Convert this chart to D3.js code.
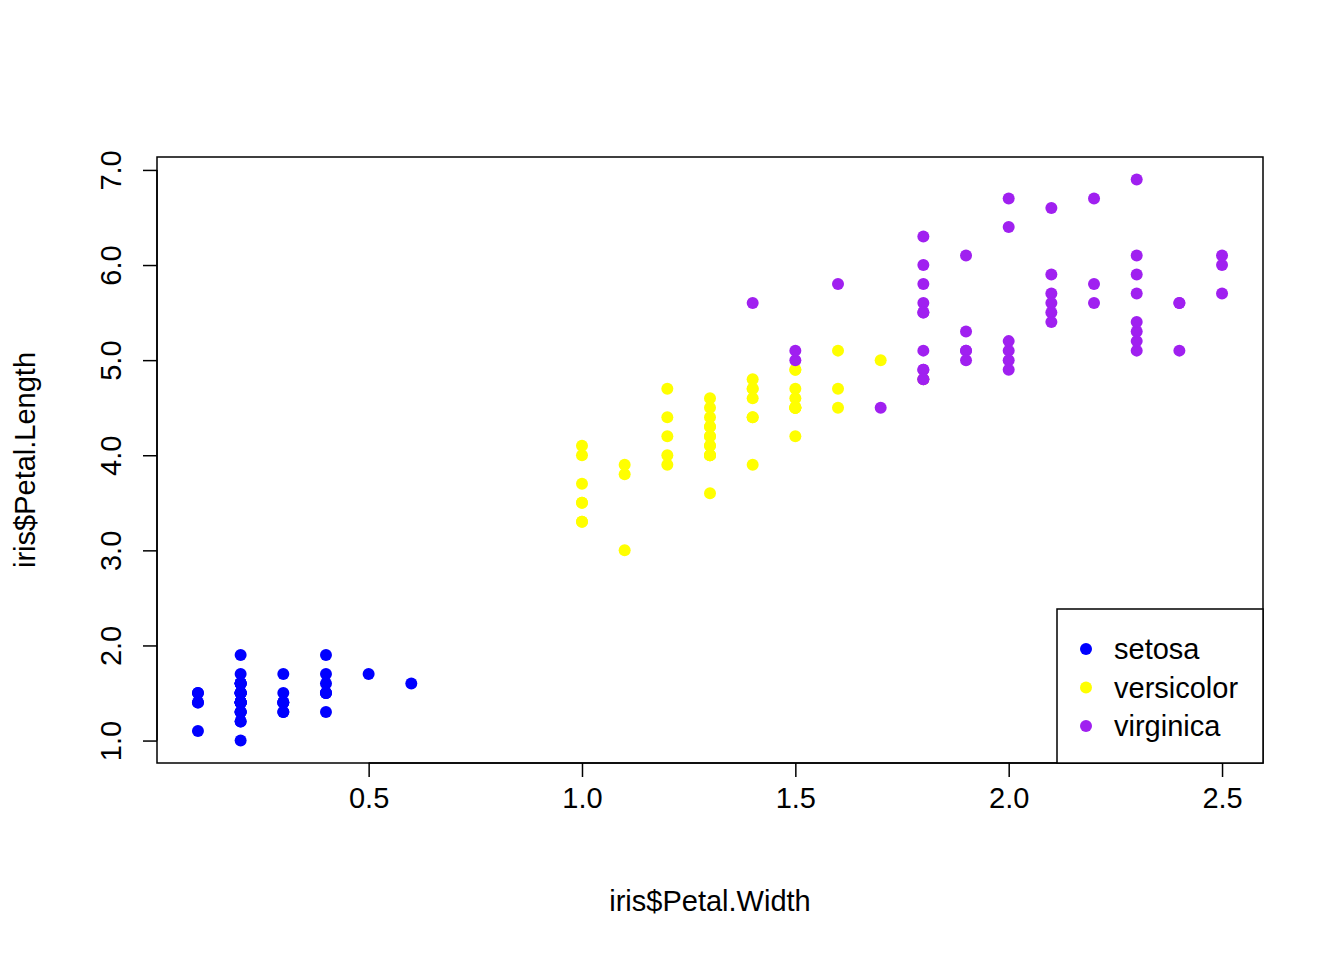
<!DOCTYPE html>
<html><head><meta charset="utf-8">
<script src="https://cdn.jsdelivr.net/npm/d3@7"></script>
<style>body{margin:0;background:#fff}text{font-family:"Liberation Sans",Arial,sans-serif;fill:#000}</style>
</head><body><svg id="chart" width="1344" height="960"></svg>
<script>
// iris petal measurements, in row order
const species = ["setosa", "versicolor", "virginica"];
const colors = ["#0000ff", "#ffff00", "#a020f0"];
const setosaLength = [1.4,1.4,1.3,1.5,1.4,1.7,1.4,1.5,1.4,1.5,1.5,1.6,1.4,1.1,1.2,1.5,1.3,1.4,1.7,1.5,1.7,1.5,1.0,1.7,1.9,1.6,1.6,1.5,1.4,1.6,1.6,1.5,1.5,1.4,1.5,1.2,1.3,1.4,1.3,1.5,1.3,1.3,1.3,1.6,1.9,1.4,1.6,1.4,1.5,1.4];
const setosaWidth = [0.2,0.2,0.2,0.2,0.2,0.4,0.3,0.2,0.2,0.1,0.2,0.2,0.1,0.1,0.2,0.4,0.4,0.3,0.3,0.3,0.2,0.4,0.2,0.5,0.2,0.2,0.4,0.2,0.2,0.2,0.2,0.4,0.1,0.2,0.2,0.2,0.2,0.1,0.2,0.2,0.3,0.3,0.2,0.6,0.4,0.3,0.2,0.2,0.2,0.2];
const versicolorLength = [4.7,4.5,4.9,4.0,4.6,4.5,4.7,3.3,4.6,3.9,3.5,4.2,4.0,4.7,3.6,4.4,4.5,4.1,4.5,3.9,4.8,4.0,4.9,4.7,4.3,4.4,4.8,5.0,4.5,3.5,3.8,3.7,3.9,5.1,4.5,4.5,4.7,4.4,4.1,4.0,4.4,4.6,4.0,3.3,4.2,4.2,4.2,4.3,3.0,4.1];
const versicolorWidth = [1.4,1.5,1.5,1.3,1.5,1.3,1.6,1.0,1.3,1.4,1.0,1.5,1.0,1.4,1.3,1.4,1.5,1.0,1.5,1.1,1.8,1.3,1.5,1.2,1.3,1.4,1.4,1.7,1.5,1.0,1.1,1.0,1.2,1.6,1.5,1.6,1.5,1.3,1.3,1.3,1.2,1.4,1.2,1.0,1.3,1.2,1.3,1.3,1.1,1.3];
const virginicaLength = [6.0,5.1,5.9,5.6,5.8,6.6,4.5,6.3,5.8,6.1,5.1,5.3,5.5,5.0,5.1,5.3,5.5,6.7,6.9,5.0,5.7,4.9,6.7,4.9,5.7,6.0,4.8,4.9,5.6,5.8,6.1,6.4,5.6,5.1,5.6,6.1,5.6,5.5,4.8,5.4,5.6,5.1,5.1,5.9,5.7,5.2,5.0,5.2,5.4,5.1];
const virginicaWidth = [2.5,1.9,2.1,1.8,2.2,2.1,1.7,1.8,1.8,2.5,2.0,1.9,2.1,2.0,2.4,2.3,1.8,2.2,2.3,1.5,2.3,2.0,2.0,1.8,2.1,1.8,1.8,1.8,2.1,1.6,1.9,2.0,2.2,1.5,1.4,2.3,2.4,1.8,1.8,2.1,2.4,2.3,1.9,2.3,2.5,2.3,1.9,2.0,2.3,1.8];
const xTicks = [0.5, 1.0, 1.5, 2.0, 2.5];
const yTicks = [1, 2, 3, 4, 5, 6, 7];

const lengths = [setosaLength, versicolorLength, virginicaLength];
const widths = [setosaWidth, versicolorWidth, virginicaWidth];
const points = [];
species.forEach((s, k) => lengths[k].forEach((l, i) => points.push({s: k, w: widths[k][i], l})));

const L = 157, R = 1263, T = 157, B = 763;
const x = d3.scaleLinear().domain([0.004, 2.596]).range([L, R]);
const y = d3.scaleLinear().domain([0.764, 7.136]).range([B, T]);
const svg = d3.select("#chart");

svg.selectAll("circle.pt").data(points).join("circle")
  .attr("class", "pt")
  .attr("cx", d => x(d.w)).attr("cy", d => y(d.l)).attr("r", 6)
  .attr("fill", d => colors[d.s]);

svg.append("rect").attr("x", L).attr("y", T).attr("width", R - L).attr("height", B - T)
  .attr("fill", "none").attr("stroke", "#000").attr("stroke-width", 1.5);

const xa = svg.append("g").attr("transform", `translate(0,${B})`)
  .call(d3.axisBottom(x).tickValues(xTicks).tickFormat(d3.format(".1f")).tickSize(14).tickPadding(10));
xa.select(".domain").attr("d", `M${x(0.5)},0H${x(2.5)}`).attr("stroke-width", 1.5);
xa.selectAll(".tick line").attr("stroke-width", 1.5);
xa.selectAll("text").attr("font-size", 29).attr("font-family", "Liberation Sans, Arial, sans-serif");

const ya = svg.append("g").attr("transform", `translate(${L},0)`)
  .call(d3.axisLeft(y).tickValues(yTicks).tickSize(14).tickPadding(0));
ya.select(".domain").attr("d", `M0,${y(1)}V${y(7)}`).attr("stroke-width", 1.5);
ya.selectAll(".tick line").attr("stroke-width", 1.5);
ya.selectAll("text").attr("font-size", 29).attr("font-family", "Liberation Sans, Arial, sans-serif")
  .attr("text-anchor", "middle").attr("x", 0).attr("dy", 0)
  .attr("transform", "translate(-46,0) rotate(-90)").attr("dominant-baseline", "central");

svg.append("text").attr("x", (L + R) / 2).attr("y", 911).attr("text-anchor", "middle")
  .attr("font-size", 29).text("iris$Petal.Width");
svg.append("text").attr("transform", `translate(35,${(T + B) / 2}) rotate(-90)`)
  .attr("text-anchor", "middle").attr("font-size", 29).text("iris$Petal.Length");

// legend
const lg = svg.append("g");
lg.append("rect").attr("x", 1057).attr("y", 609).attr("width", 206).attr("height", 154)
  .attr("fill", "#fff").attr("stroke", "#000").attr("stroke-width", 1.5);
species.forEach((s, k) => {
  const yy = 649 + k * 38.5;
  lg.append("circle").attr("cx", 1086).attr("cy", yy).attr("r", 6).attr("fill", colors[k]);
  lg.append("text").attr("x", 1114).attr("y", yy).attr("dy", "0.35em").attr("font-size", 29).text(s);
});
</script></body></html>
